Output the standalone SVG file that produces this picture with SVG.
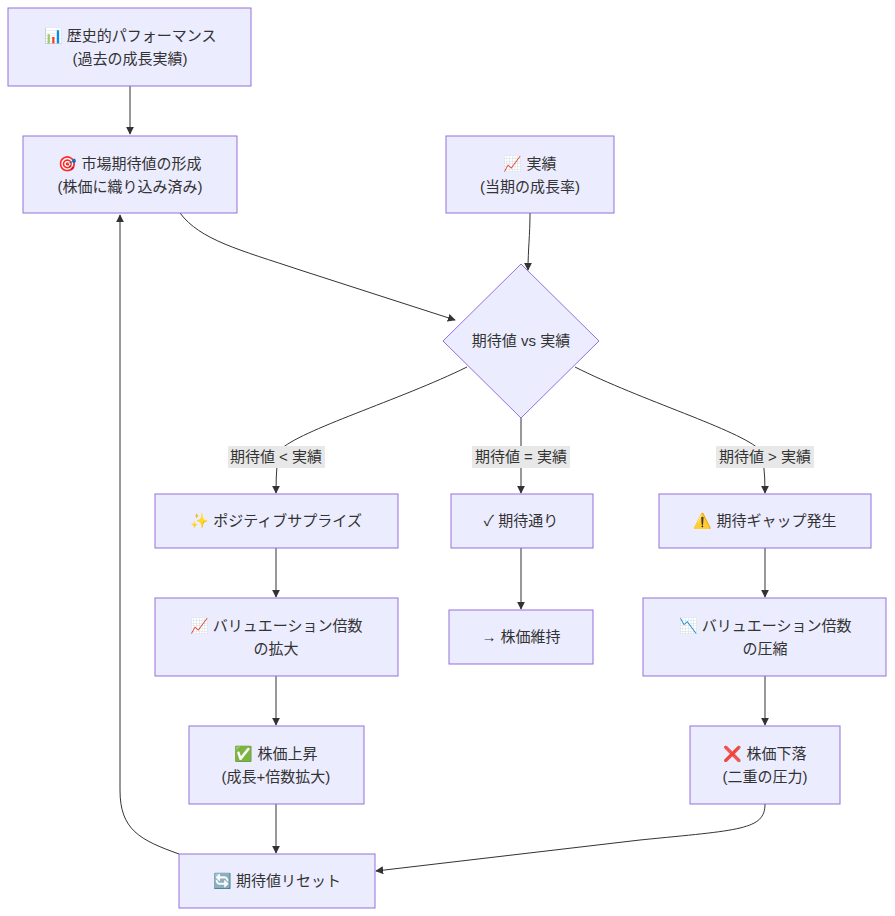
<svg xmlns="http://www.w3.org/2000/svg" width="895" height="916" viewBox="0 0 895 916">
<style>
.n{fill:#ECECFF;stroke:#9370DB;stroke-width:1}
.t{font-family:"Liberation Sans","Noto Sans CJK JP",sans-serif;font-size:15px;fill:#333;text-anchor:middle}
.e{fill:none;stroke:#333;stroke-width:1}
.lb{fill:#e8e8e8}
</style>
<defs><marker id="a" viewBox="0 0 10 10" refX="9" refY="5" markerWidth="8" markerHeight="8" orient="auto"><path d="M0,0L10,5L0,10z" fill="#333"/></marker></defs>
<g id="edges">
<path class="e" marker-end="url(#a)" d="M130,86V134"/>
<path class="e" marker-end="url(#a)" d="M180,213C200,240 240,250 300,270L455,320"/>
<path class="e" marker-end="url(#a)" d="M530,213C530,235 528,250 528,270"/>
<path class="e" marker-end="url(#a)" d="M467,367C400,400 300,430 280,450Q276,460 276,493"/>
<path class="e" marker-end="url(#a)" d="M521,418V493"/>
<path class="e" marker-end="url(#a)" d="M575,367C640,400 740,430 760,450Q765,460 765,493"/>
<path class="e" marker-end="url(#a)" d="M276,548V597"/>
<path class="e" marker-end="url(#a)" d="M521,548V609"/>
<path class="e" marker-end="url(#a)" d="M765,548V597"/>
<path class="e" marker-end="url(#a)" d="M276,676V725"/>
<path class="e" marker-end="url(#a)" d="M765,676V725"/>
<path class="e" marker-end="url(#a)" d="M276,804V853"/>
<path class="e" marker-end="url(#a)" d="M765,804C765,830 740,830 640,840L376,871"/>
<path class="e" marker-end="url(#a)" d="M179,854C140,840 120,830 120,790V215"/>
<rect class="lb" x="228" y="446" width="97" height="22"/><text class="t" x="276" y="462">期待値 &lt; 実績</text>
<rect class="lb" x="472" y="446" width="98" height="22"/><text class="t" x="521" y="462">期待値 = 実績</text>
<rect class="lb" x="716" y="446" width="98" height="22"/><text class="t" x="765" y="462">期待値 &gt; 実績</text>
</g>
<g id="n1"><rect class="n" x="8" y="8" width="243" height="78"/><text class="t" x="130" y="41">📊 歴史的パフォーマンス</text><text class="t" x="130" y="64">(過去の成長実績)</text></g>
<g id="n2"><rect class="n" x="23" y="136" width="214" height="77"/><text class="t" x="130" y="169">🎯 市場期待値の形成</text><text class="t" x="130" y="192">(株価に織り込み済み)</text></g>
<g id="n3"><rect class="n" x="446" y="136" width="168" height="77"/><text class="t" x="530" y="169">📈 実績</text><text class="t" x="530" y="192">(当期の成長率)</text></g>
<g id="d"><polygon class="n" points="521,264 599,341 521,418 443,341"/><text class="t" x="521" y="346">期待値 vs 実績</text></g>
<g id="n4"><rect class="n" x="155" y="494" width="243" height="54"/><text class="t" x="276" y="526">✨ ポジティブサプライズ</text></g>
<g id="n5"><rect class="n" x="451" y="494" width="142" height="54"/><text class="t" x="521" y="526">✓ 期待通り</text></g>
<g id="n6"><rect class="n" x="659" y="494" width="212" height="54"/><text class="t" x="765" y="526">⚠️ 期待ギャップ発生</text></g>
<g id="n7"><rect class="n" x="155" y="598" width="243" height="78"/><text class="t" x="276" y="631">📈 バリュエーション倍数</text><text class="t" x="276" y="654">の拡大</text></g>
<g id="n8"><rect class="n" x="449" y="610" width="144" height="54"/><text class="t" x="521" y="642">→ 株価維持</text></g>
<g id="n9"><rect class="n" x="643" y="598" width="243" height="78"/><text class="t" x="765" y="631">📉 バリュエーション倍数</text><text class="t" x="765" y="654">の圧縮</text></g>
<g id="n10"><rect class="n" x="189" y="726" width="175" height="78"/><text class="t" x="276" y="759">✅ 株価上昇</text><text class="t" x="276" y="782">(成長+倍数拡大)</text></g>
<g id="n11"><rect class="n" x="690" y="726" width="150" height="78"/><text class="t" x="765" y="759">❌ 株価下落</text><text class="t" x="765" y="782">(二重の圧力)</text></g>
<g id="n12"><rect class="n" x="179" y="854" width="196" height="54"/><text class="t" x="277" y="886">🔄 期待値リセット</text></g>
</svg>
